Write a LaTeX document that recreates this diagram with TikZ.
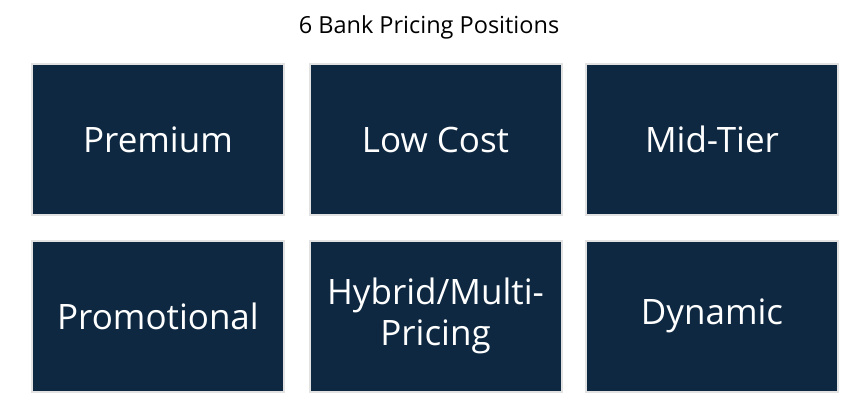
\documentclass[tikz,border=0pt]{standalone}
\usepackage{fontspec}
\setmainfont{Open Sans}
\definecolor{boxfill}{HTML}{0E2841}
\definecolor{boxline}{HTML}{E2E2E2}
\begin{document}
\begin{tikzpicture}[x=1pt,y=-1pt,
  pbox/.style={draw=boxline,line width=2pt,fill=boxfill,minimum width=252pt,minimum height=151pt,
    text=white,font=\fontsize{35}{41}\selectfont,align=center,inner sep=0pt}]
\useasboundingbox[fill=white] (0,0) rectangle (852,413);
\node[font=\fontsize{23.5}{28}\selectfont] (title) at (429,27) {6 Bank Pricing Positions};
\node[pbox] (b1) at (158,139.5) {Premium};
\node[pbox] (b2) at (435.5,139.5) {Low Cost};
\node[pbox] (b3) at (712,139.5) {Mid-Tier};
\node[pbox] (b4) at (158,316) {Promotional};
\node[pbox] (b5) at (435.5,316) {Hybrid/Multi-\\Pricing};
\node[pbox] (b6) at (712,316) {Dynamic};
\end{tikzpicture}
\end{document}
